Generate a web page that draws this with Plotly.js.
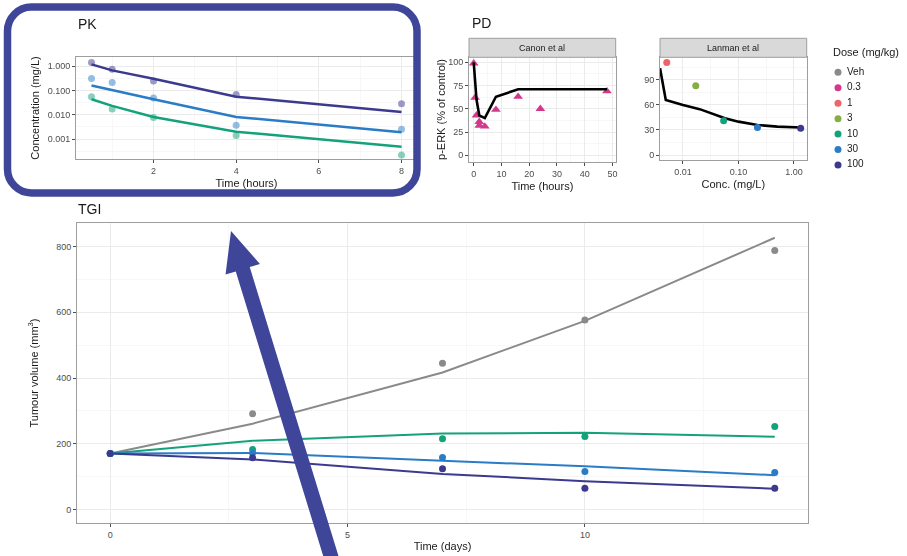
<!DOCTYPE html>
<html><head><meta charset="utf-8">
<script src="https://cdn.plot.ly/plotly-3.0.1.min.js"></script>
<style>html,body{margin:0;padding:0;background:#fff;}</style>
</head><body><div id="chart" style="width:907px;height:556px;"></div>
<script>
// ---------- DATA ----------
const doseLabels = ['Veh', '0.3', '1', '3', '10', '30', '100'];
const doseColors = ['#8a8a8a', '#d4388c', '#ef6468', '#86ae42', '#14a27a', '#2a7cc6', '#3b3a8f'];

// PK (hours, mg/L)
const pkTime = [0.5, 1, 2, 4, 8];
const pkObs10 = [0.055, 0.017, 0.0076, 0.0014, 0.00022];
const pkObs30 = [0.31, 0.21, 0.049, 0.0037, 0.0025];
const pkObs100 = [1.4, 0.73, 0.24, 0.068, 0.028];
const pkPred10 = [0.043, 0.023, 0.0081, 0.0020, 0.00048];
const pkPred30 = [0.157, 0.10, 0.043, 0.0081, 0.0019];
const pkPred100 = [1.17, 0.66, 0.30, 0.055, 0.013];

// PD Canon et al (hours, % of control)
const canonTime = [0, 0.5, 1, 2, 2, 4, 8, 16, 24, 48];
const canonObs = [99, 62, 43, 36, 32, 31, 49, 63, 50, 69];
const canonPredTime = [0, 1, 2, 4, 8, 16, 48];
const canonPred = [100, 60, 43, 40, 63, 71, 71];

// PD Lanman et al (mg/L, % of control)
const lanmanDose = ['1', '3', '10', '30', '100'];
const lanmanConc = [0.0051, 0.017, 0.054, 0.22, 1.32];
const lanmanObs = [111, 83, 41, 33, 32];
const lanmanPredConc = [0.00386, 0.0049, 0.01, 0.02, 0.057, 0.1, 0.22, 0.5, 1.32];
const lanmanPred = [104, 66, 60, 55, 44, 40, 36, 34, 33];

// TGI (days, mm^3)
const tgiDays = [0, 3, 7, 10, 14];
const tgiObsVeh = [170, 291, 445, 577, 788];
const tgiObs10 = [170, 182, 215, 222, 252];
const tgiObs30 = [170, 171, 158, 115, 112];
const tgiObs100 = [170, 157, 124, 64, 64];
const tgiPredVeh = [170, 261, 417, 574, 827];
const tgiPred10 = [170, 209, 231, 233, 221];
const tgiPred30 = [170, 172, 148, 131, 104];
const tgiPred100 = [170, 152, 108, 86, 63];

// ---------- HELPERS ----------
const W = 907, H = 556;
const px = x => x / W;
const py = y => 1 - y / H;
const col = d => doseColors[doseLabels.indexOf(d)];
const FONT = 'Liberation Sans, Arial, sans-serif';
const tickFont = {family: FONT, size: 9, color: '#4d4d4d'};
const titleFont = {family: FONT, size: 11, color: '#1a1a1a'};

function axisBase(extra) {
  return Object.assign({
    showline: true, mirror: true, linecolor: '#9e9e9e', linewidth: 1,
    showgrid: true, gridcolor: '#ebebeb', gridwidth: 1, zeroline: false,
    ticks: 'outside', ticklen: 3, tickcolor: '#4d4d4d', tickwidth: 1,
    tickfont: tickFont, tickmode: 'array', automargin: false, fixedrange: true
  }, extra);
}
function minor(vals) {
  return {tickmode: 'array', tickvals: vals, showgrid: true, gridcolor: '#f5f5f5', gridwidth: 0.8, ticks: ''};
}

const traces = [];
function line(x, y, c, xa, ya, w) {
  traces.push({x: x, y: y, xaxis: xa, yaxis: ya, type: 'scatter', mode: 'lines',
    line: {color: c, width: w || 2}, showlegend: false, hoverinfo: 'skip'});
}
function pts(x, y, c, xa, ya, opts) {
  traces.push(Object.assign({x: x, y: y, xaxis: xa, yaxis: ya, type: 'scatter', mode: 'markers',
    marker: {color: c, size: 7, line: {width: 0}}, showlegend: false, hoverinfo: 'skip'}, opts || {}));
}

// PK
pts(pkTime, pkObs10, col('10'), 'x2', 'y2', {opacity: 0.5});
pts(pkTime, pkObs30, col('30'), 'x2', 'y2', {opacity: 0.5});
pts(pkTime, pkObs100, col('100'), 'x2', 'y2', {opacity: 0.5});
line(pkTime, pkPred10, col('10'), 'x2', 'y2', 2.5);
line(pkTime, pkPred30, col('30'), 'x2', 'y2', 2.5);
line(pkTime, pkPred100, col('100'), 'x2', 'y2', 2.5);

// Canon
pts(canonTime, canonObs, col('0.3'), 'x3', 'y3', {marker: {color: col('0.3'), size: 8.5, symbol: 'triangle-up', line: {width: 0}}});
line(canonPredTime, canonPred, '#000000', 'x3', 'y3', 2.6);

// Lanman
line(lanmanPredConc, lanmanPred, '#000000', 'x4', 'y4', 2.6);
pts(lanmanConc, lanmanObs, lanmanDose.map(col), 'x4', 'y4');

// TGI
line(tgiDays, tgiPredVeh, col('Veh'), 'x', 'y', 2);
line(tgiDays, tgiPred10, col('10'), 'x', 'y', 2);
line(tgiDays, tgiPred30, col('30'), 'x', 'y', 2);
line(tgiDays, tgiPred100, col('100'), 'x', 'y', 2);
pts(tgiDays, tgiObsVeh, col('Veh'), 'x', 'y');
pts(tgiDays, tgiObs10, col('10'), 'x', 'y');
pts(tgiDays, tgiObs30, col('30'), 'x', 'y');
pts(tgiDays, tgiObs100, col('100'), 'x', 'y');

// Legend key (drawn as a small categorical panel): keys at x=0, labels at x=1
traces.push({x: doseLabels.map(() => 0), y: doseLabels, xaxis: 'x5', yaxis: 'y5', type: 'scatter',
  mode: 'markers', marker: {color: doseColors, size: 7, line: {width: 0}},
  showlegend: false, hoverinfo: 'skip', cliponaxis: false});
traces.push({x: doseLabels.map(() => 1), y: doseLabels, xaxis: 'x5', yaxis: 'y5', type: 'scatter',
  mode: 'text', text: doseLabels, textposition: 'middle right',
  textfont: {family: FONT, size: 10, color: '#1a1a1a'},
  showlegend: false, hoverinfo: 'skip', cliponaxis: false});

// ---------- LAYOUT ----------
const frame = '#3f4699';
function roundRect(x0, y0, x1, y1, r) {
  const k = 0.5523 * r;
  const P = (x, y) => px(x) + ',' + py(y);
  return 'M' + P(x0 + r, y0) + ' L' + P(x1 - r, y0) +
    ' C' + P(x1 - r + k, y0) + ' ' + P(x1, y0 + r - k) + ' ' + P(x1, y0 + r) +
    ' L' + P(x1, y1 - r) +
    ' C' + P(x1, y1 - r + k) + ' ' + P(x1 - r + k, y1) + ' ' + P(x1 - r, y1) +
    ' L' + P(x0 + r, y1) +
    ' C' + P(x0 + r - k, y1) + ' ' + P(x0, y1 - r + k) + ' ' + P(x0, y1 - r) +
    ' L' + P(x0, y0 + r) +
    ' C' + P(x0, y0 + r - k) + ' ' + P(x0 + r - k, y0) + ' ' + P(x0 + r, y0) + ' Z';
}
function arrowPath(tx, ty, bx, by, headLen, headHalf, shaftHalf) {
  const dx = bx - tx, dy = by - ty, L = Math.hypot(dx, dy);
  const ux = dx / L, uy = dy / L, nx = uy, ny = -ux;
  const hx = tx + headLen * ux, hy = ty + headLen * uy;
  const p = [
    [tx, ty],
    [hx + headHalf * nx, hy + headHalf * ny],
    [hx + shaftHalf * nx, hy + shaftHalf * ny],
    [bx + shaftHalf * nx, by + shaftHalf * ny],
    [bx - shaftHalf * nx, by - shaftHalf * ny],
    [hx - shaftHalf * nx, hy - shaftHalf * ny],
    [hx - headHalf * nx, hy - headHalf * ny]
  ];
  return 'M' + p.map(q => px(q[0]) + ',' + py(q[1])).join(' L') + ' Z';
}

const legTop = 72.3, legStep = 15.45;
const layout = {
  width: W, height: H,
  margin: {l: 0, r: 0, t: 0, b: 0},
  paper_bgcolor: '#ffffff', plot_bgcolor: '#ffffff',
  font: {family: FONT, color: '#1a1a1a'},
  showlegend: false,
  // TGI
  xaxis: axisBase({domain: [px(77), px(808)], range: [-0.7, 14.7], tickvals: [0, 5, 10],
    minor: minor([2.5, 7.5, 12.5]), anchor: 'y',
    title: {text: 'Time (days)', font: titleFont, standoff: 3}}),
  yaxis: axisBase({domain: [py(523), py(223)], range: [-41.5, 872], tickvals: [0, 200, 400, 600, 800],
    minor: minor([100, 300, 500, 700]), anchor: 'x',
    title: {text: 'Tumour volume (mm<sup>3</sup>)', font: titleFont, standoff: 15}}),
  // PK
  xaxis2: axisBase({domain: [px(76), px(417)], range: [0.125, 8.375], tickvals: [2, 4, 6, 8],
    minor: minor([1, 3, 5, 7]), anchor: 'y2',
    title: {text: 'Time (hours)', font: titleFont, standoff: 4}}),
  yaxis2: axisBase({domain: [py(159), py(57)], type: 'log', range: [-3.82, 0.37],
    tickvals: [0.001, 0.01, 0.1, 1], ticktext: ['0.001', '0.010', '0.100', '1.000'],
    minor: minor([0.000316, 0.00316, 0.0316, 0.316]), anchor: 'x2',
    title: {text: 'Concentration (mg/L)', font: titleFont, standoff: 5}}),
  // Canon
  xaxis3: axisBase({domain: [px(469), px(615.7)], range: [-1.7, 51.15], tickvals: [0, 10, 20, 30, 40, 50],
    minor: minor([5, 15, 25, 35, 45]), anchor: 'y3',
    title: {text: 'Time (hours)', font: titleFont, standoff: 4}}),
  yaxis3: axisBase({domain: [py(161.7), py(57.3)], range: [-6.9, 105.4], tickvals: [0, 25, 50, 75, 100],
    minor: minor([12.5, 37.5, 62.5, 87.5]), anchor: 'x3',
    title: {text: 'p-ERK (% of control)', font: titleFont, standoff: 0}}),
  // Lanman
  xaxis4: axisBase({domain: [px(660), px(806.7)], type: 'log', range: [-2.414, 0.229],
    tickvals: [0.01, 0.1, 1], ticktext: ['0.01', '0.10', '1.00'],
    minor: minor([0.00316, 0.0316, 0.316]), anchor: 'y4',
    title: {text: 'Conc. (mg/L)', font: titleFont, standoff: 4}}),
  yaxis4: axisBase({domain: [py(160), py(57.3)], range: [-6, 117.2], tickvals: [0, 30, 60, 90],
    minor: minor([15, 45, 75, 105]), anchor: 'x4'}),
  // Legend key panel
  xaxis5: {domain: [px(829), px(847)], range: [-1, 1], visible: false, fixedrange: true, anchor: 'y5'},
  yaxis5: {domain: [py(legTop + 6.5 * legStep), py(legTop - 0.5 * legStep)], type: 'category',
    categoryorder: 'array', categoryarray: doseLabels, range: [6.5, -0.5],
    visible: false, fixedrange: true, anchor: 'x5'},
  shapes: [
    {type: 'rect', xref: 'paper', yref: 'paper', x0: px(469), x1: px(615.7), y0: py(57.3), y1: py(38.3),
      fillcolor: '#d9d9d9', line: {color: '#9e9e9e', width: 1}},
    {type: 'rect', xref: 'paper', yref: 'paper', x0: px(660), x1: px(806.7), y0: py(57.3), y1: py(38.3),
      fillcolor: '#d9d9d9', line: {color: '#9e9e9e', width: 1}},
    {type: 'path', xref: 'paper', yref: 'paper', layer: 'above', path: roundRect(7.5, 7, 417, 193, 24),
      line: {color: frame, width: 7.5}, fillcolor: 'rgba(0,0,0,0)'},
    {type: 'path', xref: 'paper', yref: 'paper', layer: 'above',
      path: arrowPath(231, 231, 337, 576, 40, 18, 7.3),
      line: {width: 0}, fillcolor: frame}
  ],
  annotations: [
    {text: 'PK', xref: 'paper', yref: 'paper', x: px(76), y: py(24), xanchor: 'left', yanchor: 'middle',
      showarrow: false, font: {family: FONT, size: 14, color: '#1a1a1a'}},
    {text: 'PD', xref: 'paper', yref: 'paper', x: px(470), y: py(23), xanchor: 'left', yanchor: 'middle',
      showarrow: false, font: {family: FONT, size: 14, color: '#1a1a1a'}},
    {text: 'TGI', xref: 'paper', yref: 'paper', x: px(76), y: py(209), xanchor: 'left', yanchor: 'middle',
      showarrow: false, font: {family: FONT, size: 14, color: '#1a1a1a'}},
    {text: 'Canon et al', xref: 'paper', yref: 'paper', x: px(542.3), y: py(47.8), xanchor: 'center', yanchor: 'middle',
      showarrow: false, font: {family: FONT, size: 9, color: '#1a1a1a'}},
    {text: 'Lanman et al', xref: 'paper', yref: 'paper', x: px(733.3), y: py(47.8), xanchor: 'center', yanchor: 'middle',
      showarrow: false, font: {family: FONT, size: 9, color: '#1a1a1a'}},
    {text: 'Dose (mg/kg)', xref: 'paper', yref: 'paper', x: px(831), y: py(52.5), xanchor: 'left', yanchor: 'middle',
      showarrow: false, font: {family: FONT, size: 11, color: '#1a1a1a'}}
  ]
};

Plotly.newPlot('chart', traces, layout, {staticPlot: true, displayModeBar: false});
</script></body></html>
